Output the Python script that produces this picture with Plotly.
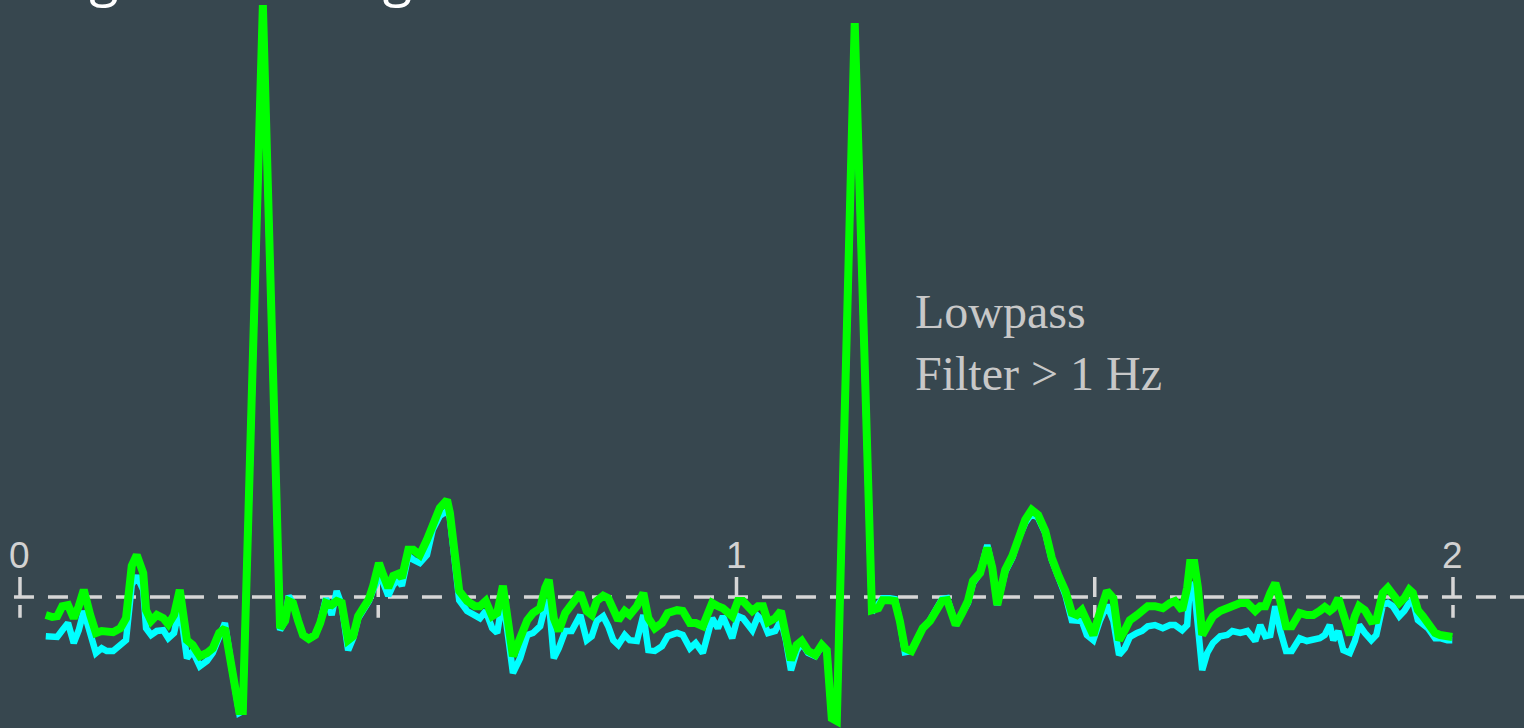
import plotly.graph_objects as go

# Two seconds of an ECG trace: the raw recording and the filtered version
time_s = [
    0.036, 0.045, 0.052, 0.059, 0.067, 0.075, 0.082, 0.089, 0.098, 0.106,
    0.114, 0.121, 0.130, 0.140, 0.148, 0.156, 0.163, 0.172, 0.176, 0.183,
    0.191, 0.200, 0.207, 0.215, 0.223, 0.233, 0.241, 0.251, 0.261, 0.269,
    0.278, 0.286, 0.296, 0.306, 0.311, 0.339, 0.363, 0.370, 0.375, 0.381,
    0.388, 0.395, 0.403, 0.412, 0.419, 0.427, 0.435, 0.442, 0.449, 0.458,
    0.465, 0.472, 0.479, 0.487, 0.493, 0.501, 0.507, 0.514, 0.521, 0.528,
    0.533, 0.542, 0.549, 0.558, 0.568, 0.576, 0.586, 0.596, 0.600, 0.607,
    0.613, 0.624, 0.635, 0.642, 0.650, 0.659, 0.666, 0.674, 0.682, 0.688,
    0.698, 0.708, 0.716, 0.726, 0.733, 0.738, 0.745, 0.752, 0.761, 0.770,
    0.782, 0.791, 0.798, 0.805, 0.814, 0.821, 0.828, 0.835, 0.844, 0.851,
    0.861, 0.870, 0.877, 0.886, 0.896, 0.904, 0.917, 0.925, 0.935, 0.943,
    0.953, 0.966, 0.974, 0.981, 0.994, 1.002, 1.009, 1.022, 1.030, 1.037,
    1.044, 1.054, 1.062, 1.069, 1.076, 1.084, 1.091, 1.100, 1.110, 1.119,
    1.126, 1.133, 1.140, 1.165, 1.189, 1.198, 1.204, 1.214, 1.221, 1.228,
    1.235, 1.244, 1.252, 1.260, 1.270, 1.277, 1.287, 1.294, 1.301, 1.306,
    1.315, 1.323, 1.330, 1.340, 1.350, 1.357, 1.364, 1.375, 1.385, 1.393,
    1.403, 1.412, 1.421, 1.431, 1.440, 1.449, 1.459, 1.468, 1.475, 1.482,
    1.489, 1.498, 1.507, 1.517, 1.526, 1.534, 1.542, 1.549, 1.559, 1.566,
    1.574, 1.584, 1.595, 1.605, 1.612, 1.622, 1.629, 1.633, 1.639, 1.644,
    1.650, 1.657, 1.665, 1.675, 1.685, 1.692, 1.703, 1.713, 1.724, 1.731,
    1.738, 1.745, 1.752, 1.759, 1.767, 1.775, 1.786, 1.796, 1.805, 1.814,
    1.821, 1.828, 1.833, 1.840, 1.847, 1.856, 1.863, 1.869, 1.877, 1.886,
    1.893, 1.898, 1.902, 1.909, 1.916, 1.925, 1.932, 1.939, 1.944, 1.951,
    1.958, 1.965, 1.975, 1.982, 1.992, 1.999,
]

raw_mv = [
    -0.098, -0.100, -0.100, -0.083, -0.065, -0.115, -0.083, -0.035, -0.088, -0.140,
    -0.128, -0.135, -0.135, -0.120, -0.108, 0.030, 0.053, 0.018, -0.078, -0.095,
    -0.085, -0.083, -0.103, -0.090, -0.023, -0.153, -0.135, -0.173, -0.160, -0.140,
    -0.095, -0.065, -0.183, -0.290, -0.285, 1.473, -0.083, -0.060, 0.003, -0.015,
    -0.058, -0.095, -0.105, -0.095, -0.065, -0.003, -0.045, 0.015, -0.020, -0.133,
    -0.103, -0.053, -0.033, -0.010, 0.018, 0.048, 0.035, 0.003, 0.030, 0.043,
    0.028, 0.103, 0.093, 0.085, 0.105, 0.168, 0.203, 0.215, 0.198, 0.098,
    -0.008, -0.035, -0.048, -0.053, -0.035, -0.078, -0.090, -0.003, -0.108, -0.190,
    -0.153, -0.095, -0.090, -0.073, -0.023, -0.008, -0.153, -0.128, -0.085, -0.085,
    -0.045, -0.108, -0.098, -0.060, -0.048, -0.073, -0.108, -0.120, -0.095, -0.108,
    -0.110, -0.045, -0.133, -0.135, -0.123, -0.098, -0.090, -0.095, -0.128, -0.115,
    -0.140, -0.053, -0.078, -0.048, -0.103, -0.048, -0.053, -0.083, -0.048, -0.060,
    -0.090, -0.085, -0.058, -0.108, -0.183, -0.135, -0.115, -0.140, -0.148, -0.123,
    -0.133, -0.303, -0.310, 1.428, -0.038, -0.020, -0.003, -0.003, -0.005, -0.060,
    -0.138, -0.135, -0.108, -0.078, -0.058, -0.038, -0.005, -0.003, -0.048, -0.070,
    -0.040, -0.015, 0.035, 0.060, 0.130, 0.073, -0.020, 0.063, 0.098, 0.143,
    0.185, 0.208, 0.198, 0.160, 0.093, 0.048, 0.005, -0.058, -0.060, -0.060,
    -0.095, -0.108, -0.060, -0.020, -0.060, -0.145, -0.128, -0.100, -0.090, -0.085,
    -0.073, -0.070, -0.078, -0.070, -0.070, -0.083, -0.070, 0.035, 0.018, -0.058,
    -0.183, -0.140, -0.115, -0.098, -0.095, -0.085, -0.090, -0.085, -0.110, -0.070,
    -0.098, -0.095, -0.023, -0.085, -0.135, -0.135, -0.103, -0.110, -0.108, -0.103,
    -0.095, -0.070, -0.108, -0.085, -0.133, -0.140, -0.110, -0.070, -0.090, -0.108,
    -0.095, -0.053, -0.020, -0.015, -0.023, -0.048, -0.035, -0.015, -0.008, -0.058,
    -0.070, -0.078, -0.103, -0.103, -0.108, -0.108,
]

filtered_mv = [
    -0.045, -0.050, -0.048, -0.023, -0.020, -0.053, -0.023, 0.018, -0.045, -0.090,
    -0.085, -0.088, -0.088, -0.078, -0.053, 0.078, 0.105, 0.060, -0.033, -0.060,
    -0.045, -0.053, -0.068, -0.045, 0.018, -0.108, -0.120, -0.148, -0.140, -0.128,
    -0.090, -0.078, -0.183, -0.285, -0.285, 1.480, -0.078, -0.060, -0.010, -0.015,
    -0.058, -0.095, -0.105, -0.095, -0.065, -0.015, -0.020, -0.010, -0.015, -0.108,
    -0.098, -0.048, -0.028, -0.005, 0.028, 0.085, 0.055, 0.023, 0.053, 0.058,
    0.048, 0.118, 0.118, 0.105, 0.143, 0.185, 0.223, 0.243, 0.210, 0.105,
    0.015, -0.010, -0.023, -0.023, -0.010, -0.048, -0.040, 0.028, -0.085, -0.148,
    -0.103, -0.058, -0.040, -0.028, 0.023, 0.043, -0.053, -0.085, -0.040, -0.020,
    0.010, -0.035, -0.045, -0.010, 0.003, -0.003, -0.035, -0.058, -0.035, -0.045,
    -0.023, 0.010, -0.053, -0.078, -0.065, -0.040, -0.033, -0.035, -0.065, -0.065,
    -0.073, -0.015, -0.023, -0.028, -0.048, -0.010, -0.010, -0.035, -0.023, -0.023,
    -0.063, -0.053, -0.035, -0.103, -0.158, -0.120, -0.110, -0.135, -0.145, -0.120,
    -0.133, -0.303, -0.310, 1.435, -0.033, -0.028, -0.008, -0.008, -0.010, -0.060,
    -0.128, -0.135, -0.103, -0.078, -0.060, -0.040, -0.010, -0.008, -0.048, -0.070,
    -0.040, -0.010, 0.040, 0.060, 0.123, 0.073, -0.020, 0.068, 0.103, 0.148,
    0.193, 0.218, 0.205, 0.165, 0.098, 0.055, 0.015, -0.040, -0.045, -0.033,
    -0.065, -0.095, -0.040, 0.015, -0.003, -0.108, -0.083, -0.058, -0.045, -0.035,
    -0.023, -0.023, -0.028, -0.015, -0.010, -0.033, 0.023, 0.085, 0.085, 0.023,
    -0.095, -0.073, -0.048, -0.035, -0.028, -0.018, -0.015, -0.015, -0.035, -0.023,
    -0.023, 0.010, 0.035, -0.010, -0.073, -0.073, -0.040, -0.045, -0.045, -0.035,
    -0.025, -0.035, -0.028, -0.003, -0.048, -0.095, -0.048, -0.023, -0.033, -0.060,
    -0.058, -0.015, 0.010, 0.023, 0.003, -0.015, -0.003, 0.018, 0.010, -0.033,
    -0.048, -0.065, -0.090, -0.095, -0.095, -0.100,
]

# Axis ticks every half second, labelled on whole seconds
tick_vals = [0, 0.5, 1, 1.5, 2]
tick_text = ["0", "", "1", "", "2"]

title_text = "Signal Filtering"
note_text = "Lowpass<br>Filter > 1 Hz"

BG = "#37474f"
AXIS = "#d6d6d6"
X_RANGE = [-0.0279, 2.0991]
Y_RANGE = [-0.3275, 1.4925]

fig = go.Figure()

fig.add_trace(go.Scatter(
    x=time_s, y=raw_mv, mode="lines",
    line=dict(color="#00ffff", width=6.5),
    hoverinfo="skip", showlegend=False,
))
fig.add_trace(go.Scatter(
    x=time_s, y=filtered_mv, mode="lines",
    line=dict(color="#00ff00", width=8),
    hoverinfo="skip", showlegend=False,
))

# dashed time axis along zero amplitude
shapes = [dict(
    type="line", xref="x", yref="y",
    x0=-0.0084, x1=X_RANGE[1], y0=0, y1=0,
    line=dict(color=AXIS, width=3.5, dash="20px,14px"),
    layer="below",
)]
# dashed tick marks crossing the axis
for tv in tick_vals:
    shapes.append(dict(
        type="line", xref="x", yref="y",
        x0=tv, x1=tv, y0=0.05, y1=-0.052,
        line=dict(color=AXIS, width=3.5, dash="20px,8px"),
        layer="below",
    ))

annotations = []
for tv, tt in zip(tick_vals, tick_text):
    if tt:
        annotations.append(dict(
            x=tv, y=0.105, xref="x", yref="y", text=tt, showarrow=False,
            xanchor="center", yanchor="middle",
            font=dict(family="Liberation Sans, Arial, sans-serif", size=37, color="#d2d2d2"),
        ))

annotations.append(dict(
    x=1.2470, y=0.636, xref="x", yref="y", text=note_text, showarrow=False,
    xanchor="left", yanchor="middle", align="left",
    font=dict(family="Liberation Serif, Times New Roman, serif", size=48, color="#c8c8c8"),
))

annotations.append(dict(
    x=44 / 1524, y=1, xref="paper", yref="paper", text=title_text, showarrow=False,
    xanchor="left", yanchor="bottom", yshift=-13,
    font=dict(family="Open Sans, sans-serif", size=54, color="#ffffff"),
))

fig.update_layout(
    width=1524, height=728,
    margin=dict(l=0, r=0, t=0, b=0),
    paper_bgcolor=BG, plot_bgcolor=BG,
    xaxis=dict(range=X_RANGE, visible=False, fixedrange=True),
    yaxis=dict(range=Y_RANGE, visible=False, fixedrange=True),
    shapes=shapes, annotations=annotations,
    showlegend=False,
)

fig.write_html("out.html", config={"displayModeBar": False})
